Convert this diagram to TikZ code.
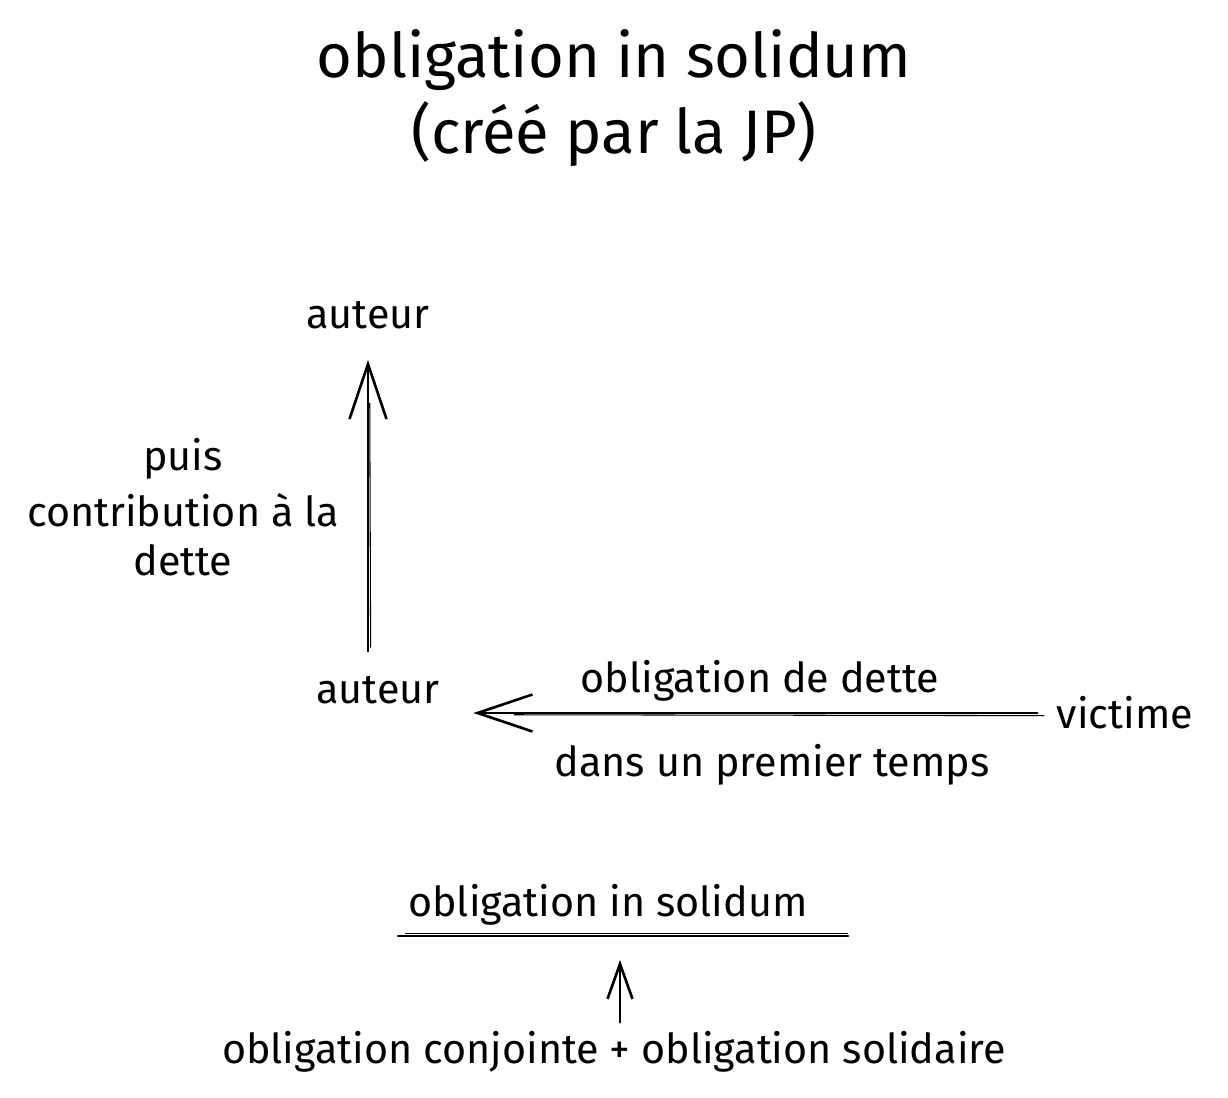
\documentclass[tikz,border=0pt]{standalone}
\usepackage{fontspec}
\setmainfont{Fira Sans}
\usetikzlibrary{arrows.meta,calc}
\tikzset{
  txt/.style={font=\fontsize{23.5}{28}\selectfont,inner sep=2pt},
  titletxt/.style={font=\fontsize{35}{43}\selectfont,align=center},
  pen/.style={line width=1.5pt,line cap=round},
  bigarrow/.style={pen,-{Straight Barb[length=11mm,width=7.4mm,line width=1.5pt]}},
  smallarrow/.style={pen,-{Straight Barb[length=7mm,width=5mm,line width=1.5pt]}}
}

\begin{document}
\begin{tikzpicture}[x=0.02cm,y=-0.02cm]
    \useasboundingbox (0,0) rectangle (1228,1098);
    % title
    \node[titletxt] (title) at (614,98) {obligation in solidum\\(créé par la JP)};
    % the two debtors and the victim
    \node[txt] (auteurA) at (368,315) {auteur};
    \node[txt] (auteurB) at (378,690) {auteur};
    \node[txt] (victime) at (1125,713) {victime};
    \node[txt,align=center] (contrib) at (183,507) {puis\\[4pt]contribution à la\\dette};
    \draw[bigarrow,shorten <=12pt] (auteurA |- auteurB.north) -- ([yshift=-15.5pt]auteurA.south);
    \draw[line width=0.6pt] ([xshift=1.5pt,yshift=14pt]auteurA |- auteurB.north) -- ([xshift=1pt,yshift=-40pt]auteurA.south);
    \draw[bigarrow,shorten <=9pt,shorten >=17pt] (victime.west) -- (victime.west -| auteurB.east);
    \draw[line width=0.6pt] ($(victime.west)+(-5pt,-1.5pt)$) -- ($(victime.west -| auteurB.east)+(40pt,-1pt)$);
    \node[txt] (oblig) at (760,681) {obligation de dette};
    \node[txt] (temps) at (772,765) {dans un premier temps};
    % bottom part
    \node[txt] (solidum) at (608,905) {obligation in solidum};
    \coordinate (barL) at (398,936);
    \coordinate (barR) at (848,936);
    \draw[pen] (barL) -- (barR);
    \draw[line width=0.6pt] ($(barL)+(4pt,1.5pt)$) -- ($(barR)+(0,1.5pt)$);
    \node[txt] (conj) at (614,1052) {obligation conjointe + obligation solidaire};
    \coordinate (tip) at (620,960);
    \draw[smallarrow,shorten <=3pt] (conj.north -| tip) -- (tip);
  \end{tikzpicture}
\end{document}
